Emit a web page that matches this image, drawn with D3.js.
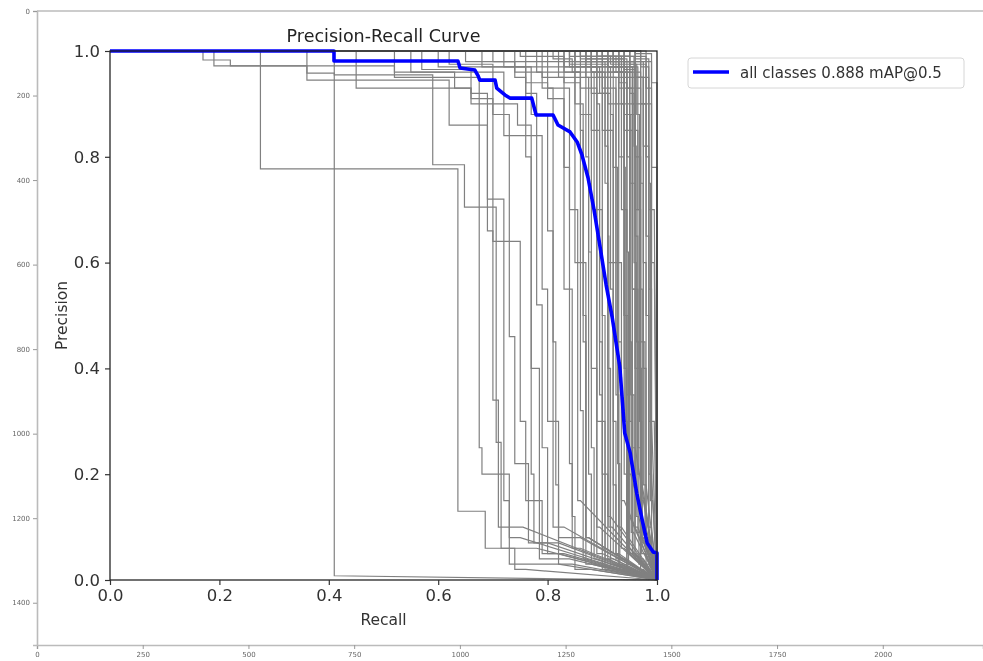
<!DOCTYPE html>
<html><head><meta charset="utf-8">
<script src="https://cdn.jsdelivr.net/npm/d3@7"></script>
<style>body{margin:0;background:#fff;} svg{display:block;}</style>
</head><body>
<svg id="chart" width="983" height="661"></svg>
<script>
const title = "Precision-Recall Curve";
const xLabel = "Recall";
const yLabel = "Precision";
const legendLabel = "all classes 0.888 mAP@0.5";
const prTicks = [0, 0.2, 0.4, 0.6, 0.8, 1.0];
const imgXTicks = [0, 250, 500, 750, 1000, 1250, 1500, 1750, 2000];
const imgYTicks = [0, 200, 400, 600, 800, 1000, 1200, 1400];

// mean PR curve (recall, precision)
const meanRecall = [0, 0.4095, 0.4095, 0.636, 0.640, 0.667, 0.673, 0.676, 0.704, 0.707, 0.722, 0.731, 0.771, 0.779, 0.810, 0.819, 0.841, 0.854, 0.863, 0.874, 0.885, 0.896, 0.907, 0.918, 0.925, 0.932, 0.941, 0.951, 0.963, 0.973, 0.982, 0.993, 1.0, 1.0];
const meanPrecision = [1.0, 1.0, 0.981, 0.981, 0.968, 0.964, 0.953, 0.945, 0.945, 0.930, 0.917, 0.911, 0.911, 0.879, 0.879, 0.860, 0.847, 0.828, 0.803, 0.760, 0.699, 0.629, 0.558, 0.497, 0.450, 0.403, 0.278, 0.240, 0.164, 0.113, 0.070, 0.053, 0.051, 0.0];

// per-class curves: [recall where the level ends, precision level]
const classCurves = [
  [[0.41,1.0],[0.41,0.008]],
  [[0.275,1.0],[0.636,0.777],[0.686,0.13],[0.74,0.06],[0.76,0.02]],
  [[0.19,1.0],[0.36,0.972],[0.41,0.958],[0.59,0.955],[0.648,0.785],[0.706,0.705],[0.715,0.26],[0.78,0.06]],
  [[0.17,1.0],[0.22,0.983],[0.52,0.972],[0.675,0.95],[0.68,0.25],[0.73,0.20],[0.75,0.08]],
  [[0.36,1.0],[0.62,0.945],[0.69,0.86],[0.72,0.72],[0.73,0.15],[0.82,0.03]],
  [[0.52,1.0],[0.63,0.96],[0.66,0.93],[0.70,0.91],[0.75,0.64],[0.76,0.30],[0.79,0.15],[0.82,0.05]],
  [[0.55,1.0],[0.72,0.96],[0.745,0.90],[0.77,0.86],[0.785,0.40],[0.84,0.04]],
  [[0.60,1.0],[0.77,0.97],[0.80,0.88],[0.81,0.66],[0.83,0.10]],
  [[0.45,1.0],[0.66,0.93],[0.72,0.90],[0.79,0.84],[0.80,0.55],[0.82,0.30],[0.86,0.08]],
  [[0.65,1.0],[0.74,0.98],[0.76,0.95],[0.77,0.80],[0.775,0.20],[0.82,0.07]],
  [[0.70,1.0],[0.80,0.98],[0.84,0.93],[0.855,0.70],[0.86,0.15]],
  [[0.72,1.0],[0.82,0.97],[0.85,0.95],[0.87,0.60],[0.875,0.08]],
  [[0.75,1.0],[0.83,0.99],[0.86,0.94],[0.88,0.88],[0.89,0.40],[0.90,0.05]],
  [[0.78,1.0],[0.86,0.96],[0.89,0.93],[0.90,0.70],[0.91,0.20],[0.92,0.04]],
  [[0.80,1.0],[0.87,0.98],[0.90,0.95],[0.92,0.85],[0.925,0.30],[0.93,0.05]],
  [[0.82,1.0],[0.88,0.97],[0.91,0.92],[0.93,0.60],[0.935,0.10]],
  [[0.84,1.0],[0.90,0.99],[0.93,0.95],[0.94,0.80],[0.945,0.20],[0.95,0.03]],
  [[0.85,1.0],[0.91,0.98],[0.94,0.90],[0.95,0.50],[0.955,0.05]],
  [[0.86,1.0],[0.92,0.99],[0.95,0.96],[0.96,0.75],[0.965,0.10]],
  [[0.88,1.0],[0.93,0.97],[0.96,0.93],[0.97,0.40],[0.975,0.04]],
  [[0.90,1.0],[0.95,0.99],[0.975,0.95],[0.98,0.60],[0.985,0.08]],
  [[0.92,1.0],[0.97,0.98],[0.99,0.90],[0.995,0.30]],
  [[0.87,1.0],[0.89,0.97],[0.905,0.30],[0.91,0.02]],
  [[0.83,1.0],[0.85,0.96],[0.865,0.90],[0.87,0.45],[0.88,0.03]],
  [[0.76,1.0],[0.80,0.94],[0.83,0.91],[0.845,0.55],[0.85,0.12],[0.88,0.02]],
  [[0.89,1.0],[0.94,0.985],[0.955,0.85],[0.96,0.25]],
  [[0.91,1.0],[0.935,0.96],[0.945,0.70],[0.95,0.12]],
  [[0.93,1.0],[0.96,0.97],[0.97,0.80],[0.975,0.15]],
  [[0.95,1.0],[0.975,0.98],[0.985,0.82],[0.99,0.20]],
  [[0.94,1.0],[0.98,0.90],[0.985,0.50],[0.99,0.05]],
  [[0.96,1.0],[0.985,0.95],[0.995,0.70]],
  [[0.97,1.0],[0.99,0.98],[1.0,0.78]],
  [[0.98,1.0],[0.985,0.80],[0.99,0.30]],
  [[0.86,1.0],[0.88,0.99],[0.90,0.96],[0.915,0.92],[0.92,0.55],[0.925,0.18],[0.94,0.04]],
  [[0.88,1.0],[0.91,0.975],[0.925,0.93],[0.935,0.45],[0.94,0.06]],
  [[0.90,1.0],[0.925,0.99],[0.94,0.96],[0.952,0.88],[0.958,0.35],[0.962,0.05]],
  [[0.91,1.0],[0.945,0.97],[0.955,0.93],[0.965,0.55],[0.97,0.09]],
  [[0.84,1.0],[0.88,0.975],[0.895,0.85],[0.90,0.35],[0.905,0.02]],
  [[0.81,1.0],[0.845,0.985],[0.86,0.96],[0.865,0.32],[0.87,0.04]],
  [[0.79,1.0],[0.83,0.95],[0.84,0.78],[0.845,0.22],[0.86,0.06]],
  [[0.74,1.0],[0.79,0.96],[0.81,0.93],[0.815,0.45],[0.82,0.18],[0.845,0.03]],
  [[0.68,1.0],[0.76,0.97],[0.78,0.92],[0.79,0.52],[0.80,0.25],[0.83,0.05]],
  [[0.62,1.0],[0.70,0.975],[0.73,0.88],[0.74,0.46],[0.765,0.22],[0.80,0.07]],
  [[0.57,1.0],[0.66,0.965],[0.69,0.92],[0.70,0.66],[0.71,0.34],[0.755,0.10]],
  [[0.93,1.0],[0.95,0.95],[0.96,0.88],[0.965,0.65],[0.97,0.25],[0.975,0.02]],
  [[0.95,1.0],[0.97,0.96],[0.978,0.45],[0.98,0.10]],
  [[0.97,1.0],[0.98,0.99],[0.99,0.93],[0.995,0.60]],
  [[0.96,1.0],[0.99,0.995],[1.0,0.94]],
  [[0.92,1.0],[0.94,0.99],[0.955,0.97],[0.96,0.90],[0.968,0.70],[0.972,0.40],[0.976,0.10]],
  [[0.89,1.0],[0.915,0.99],[0.93,0.975],[0.945,0.94],[0.948,0.62],[0.952,0.20]],
  [[0.90,1.0],[0.93,0.98],[0.935,0.60],[0.94,0.15]],
  [[0.91,1.0],[0.94,0.97],[0.945,0.50],[0.95,0.06]],
  [[0.92,1.0],[0.945,0.985],[0.95,0.80],[0.955,0.30],[0.96,0.05]],
  [[0.93,1.0],[0.955,0.96],[0.96,0.55],[0.965,0.04]],
  [[0.94,1.0],[0.96,0.98],[0.965,0.85],[0.97,0.20]],
  [[0.95,1.0],[0.965,0.97],[0.97,0.70],[0.975,0.08]],
  [[0.96,1.0],[0.975,0.95],[0.98,0.40],[0.985,0.03]],
  [[0.87,1.0],[0.905,0.98],[0.91,0.75],[0.915,0.12]],
  [[0.88,1.0],[0.915,0.97],[0.92,0.88],[0.925,0.05]],
  [[0.89,1.0],[0.925,0.95],[0.93,0.35],[0.935,0.03]],
  [[0.90,1.0],[0.935,0.99],[0.94,0.90],[0.945,0.40],[0.95,0.02]],
  [[0.92,1.0],[0.95,0.99],[0.958,0.92],[0.962,0.60],[0.966,0.12]],
  [[0.93,1.0],[0.963,0.975],[0.968,0.88],[0.972,0.30],[0.978,0.05]],
  [[0.94,1.0],[0.97,0.99],[0.975,0.75],[0.98,0.18]],
  [[0.95,1.0],[0.98,0.975],[0.985,0.65],[0.99,0.10]],
  [[0.96,1.0],[0.985,0.985],[0.99,0.55],[0.995,0.05]],
  [[0.86,1.0],[0.895,0.97],[0.90,0.92],[0.905,0.50],[0.91,0.04]],
  [[0.85,1.0],[0.885,0.96],[0.89,0.70],[0.895,0.10]],
  [[0.88,1.0],[0.92,0.96],[0.928,0.78],[0.932,0.22],[0.94,0.02]],
  [[0.91,1.0],[0.95,0.98],[0.953,0.45],[0.957,0.09]],
  [[0.93,1.0],[0.958,0.99],[0.962,0.82],[0.967,0.45],[0.97,0.03]],
  [[0.97,1.0],[0.985,0.97],[0.988,0.75],[0.992,0.15]],
  [[0.89,1.0],[0.92,0.99],[0.945,0.96],[0.948,0.35],[0.955,0.03]],
  [[0.94,1.0],[0.96,0.965],[0.97,0.93],[0.973,0.55],[0.977,0.07]],
  [[0.87,1.0],[0.91,0.985],[0.94,0.97],[0.942,0.78],[0.946,0.30],[0.95,0.05]],
  [[0.84,1.0],[0.87,0.97],[0.875,0.80],[0.88,0.20],[0.885,0.03]],
  [[0.85,1.0],[0.875,0.95],[0.88,0.62],[0.885,0.25],[0.89,0.04]],
  [[0.86,1.0],[0.89,0.985],[0.895,0.90],[0.90,0.45],[0.905,0.06]],
  [[0.83,1.0],[0.86,0.97],[0.865,0.85],[0.87,0.50],[0.875,0.08]],
  [[0.87,1.0],[0.90,0.98],[0.91,0.93],[0.912,0.65],[0.918,0.10]],
  [[0.88,1.0],[0.905,0.96],[0.91,0.82],[0.915,0.40],[0.92,0.03]]
];

const svg = d3.select("#chart");
const defs = svg.append("defs");
defs.append("filter").attr("id", "soft")
  .append("feGaussianBlur").attr("stdDeviation", 0.4);
const root = svg.append("g").attr("filter", "url(#soft)");
const font = "DejaVu Sans, sans-serif";

// ----- outer image axes -----
const imgX = d3.scaleLinear().domain([0, 2237]).range([37, 983]);
const imgY = d3.scaleLinear().domain([0, 1500]).range([11, 645]);
const outer = root.append("g");
outer.append("g").attr("transform", `translate(0,${imgY(1500)})`)
  .call(d3.axisBottom(imgX).tickValues(imgXTicks).tickSize(4).tickPadding(3).tickFormat(d3.format("d")))
  .call(g => { g.select(".domain").attr("stroke", "#bbb").attr("stroke-width", 1.6);
    g.selectAll("line").attr("stroke", "#999");
    g.selectAll("text").attr("fill", "#666").attr("font-size", 7).attr("font-family", font); });
outer.append("g").attr("transform", `translate(${imgX(0)},0)`)
  .call(d3.axisLeft(imgY).tickValues(imgYTicks).tickSize(4).tickPadding(3).tickFormat(d3.format("d")))
  .call(g => { g.select(".domain").attr("stroke", "#bbb").attr("stroke-width", 1.6);
    g.selectAll("line").attr("stroke", "#999");
    g.selectAll("text").attr("fill", "#666").attr("font-size", 7).attr("font-family", font); });
outer.append("line").attr("x1", imgX(0)).attr("x2", imgX(2237)).attr("y1", imgY(0)).attr("y2", imgY(0))
  .attr("stroke", "#bbb").attr("stroke-width", 1.6);

// ----- inner PR plot -----
const x = d3.scaleLinear().domain([0, 1]).range([110, 657]);
const y = d3.scaleLinear().domain([0, 1]).range([580, 51]);
const plot = root.append("g");

const line = d3.line().x(d => x(d[0])).y(d => y(d[1]));
function expand(c) {
  const pts = [[0, c[0][1]]];
  c.forEach((s, i) => {
    if (i > 0) pts.push([c[i - 1][0], s[1]]);
    pts.push([s[0], s[1]]);
  });
  pts.push([1, 0]);
  return pts;
}
plot.append("g").selectAll("path").data(classCurves).join("path")
  .attr("d", c => line(expand(c)))
  .attr("fill", "none").attr("stroke", "#808080").attr("stroke-width", 1.2);

const meanPts = meanRecall.map((r, i) => [r, meanPrecision[i]]);
plot.append("path").attr("d", line(meanPts))
  .attr("fill", "none").attr("stroke", "#0000ff").attr("stroke-width", 3.6)
  .attr("stroke-linejoin", "round");

// frame
plot.append("rect").attr("x", x(0)).attr("y", y(1)).attr("width", x(1) - x(0)).attr("height", y(0) - y(1))
  .attr("fill", "none").attr("stroke", "#222").attr("stroke-width", 1.3);

const styleAxis = g => {
  g.select(".domain").remove();
  g.selectAll("line").attr("stroke", "#333").attr("stroke-width", 1.2);
  g.selectAll("text").attr("fill", "#333").attr("font-size", 16.5).attr("font-family", font);
};
plot.append("g").attr("transform", `translate(0,${y(0)})`)
  .call(d3.axisBottom(x).tickValues(prTicks).tickSize(5).tickPadding(4).tickFormat(d3.format(".1f")))
  .call(styleAxis);
plot.append("g").attr("transform", `translate(${x(0)},0)`)
  .call(d3.axisLeft(y).tickValues(prTicks).tickSize(5).tickPadding(5).tickFormat(d3.format(".1f")))
  .call(styleAxis);

plot.append("text").attr("x", (x(0) + x(1)) / 2).attr("y", 42).attr("text-anchor", "middle")
  .attr("font-family", font).attr("font-size", 17.5).attr("fill", "#222").text(title);
plot.append("text").attr("x", (x(0) + x(1)) / 2).attr("y", 625).attr("text-anchor", "middle")
  .attr("font-family", font).attr("font-size", 15.5).attr("fill", "#333").text(xLabel);
plot.append("text").attr("transform", `translate(67,${(y(0) + y(1)) / 2}) rotate(-90)`).attr("text-anchor", "middle")
  .attr("font-family", font).attr("font-size", 15.5).attr("fill", "#333").text(yLabel);

// legend
const lg = root.append("g").attr("transform", "translate(688,58)");
lg.append("rect").attr("width", 276).attr("height", 30).attr("rx", 3)
  .attr("fill", "#fff").attr("stroke", "#d6d6d6").attr("stroke-width", 1);
lg.append("line").attr("x1", 5).attr("x2", 41).attr("y1", 14).attr("y2", 14)
  .attr("stroke", "#0000ff").attr("stroke-width", 3.6);
lg.append("text").attr("x", 52).attr("y", 20).attr("font-family", font).attr("font-size", 15)
  .attr("fill", "#333").text(legendLabel);
</script>
</body></html>
